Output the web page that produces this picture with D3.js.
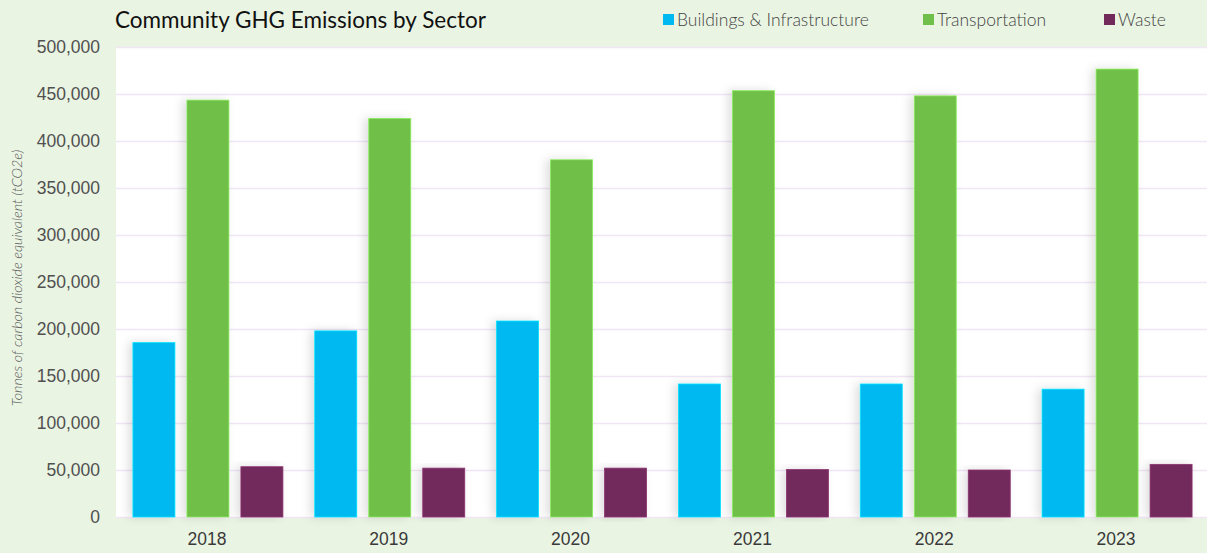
<!DOCTYPE html>
<html>
<head>
<meta charset="utf-8">
<script src="https://cdn.jsdelivr.net/npm/d3@7"></script>
<style>
    body { margin: 0; background: #eaf4e3; }
    svg  { display: block; font-family: Lato, "Open Sans", sans-serif; }
</style>
</head>
<body>
<svg id="ghg_chart" width="1207" height="553"></svg>
<script>
// values (tCO2e)
const years          = ["2018", "2019", "2020", "2021", "2022", "2023"];
const sectors        = ["Buildings & Infrastructure", "Transportation", "Waste"];
const buildings      = [185500, 198000, 208500, 141500, 141500, 136000];
const transportation = [443500, 424000, 380000, 453500, 448000, 476500];
const waste          = [53500, 52000, 52000, 50500, 50000, 56000];
const yTicks         = [0, 50000, 100000, 150000, 200000, 250000, 300000, 350000, 400000, 450000, 500000];

const colors = ["#00b9f1", "#70bf4a", "#722a5b"];
const series = [buildings, transportation, waste];

const svg = d3.select("#ghg_chart");
const width = +svg.attr("width"), height = +svg.attr("height");

const margin = { top: 47, right: 0, bottom: 36, left: 116 };
const innerWidth  = width  - margin.left - margin.right;
const innerHeight = height - margin.top  - margin.bottom;

// soft shadow behind bars
const defs = svg.append("defs");
const shadow = defs.append("filter").attr("id", "bar_shadow")
    .attr("x", "-50%").attr("y", "-10%").attr("width", "200%").attr("height", "120%");
shadow.append("feDropShadow")
    .attr("dx", -4).attr("dy", 0)
    .attr("stdDeviation", 5)
    .attr("flood-color", "#000")
    .attr("flood-opacity", 0.13);

const chart = svg.append("g").attr("transform", `translate(${margin.left},${margin.top})`);

chart.append("rect")
    .attr("width", innerWidth).attr("height", innerHeight)
    .attr("fill", "#ffffff");

const x = d3.scaleBand().domain(years).range([0, innerWidth]);
const y = d3.scaleLinear().domain([0, 500000]).range([innerHeight, 0]);

// gridlines + y labels
const yAxis = d3.axisLeft(y).tickValues(yTicks).tickSize(-innerWidth).tickPadding(16)
    .tickFormat(d3.format(","));
const gy = chart.append("g").call(yAxis);
gy.select(".domain").remove();
gy.selectAll(".tick line").attr("stroke", "#f1e6f6").attr("stroke-width", 1.5);
gy.selectAll(".tick text").attr("fill", "#505050").attr("font-size", 17.5).attr("font-weight", 300);

// bars
const barWidth = 42, barGap = 12;
const groupWidth = barWidth * 3 + barGap * 2;

series.forEach((values, si) =>
{
    chart.selectAll(".bar_s" + si).data(values)
        .enter().append("rect")
        .attr("class", "bar_s" + si)
        .attr("x", (d, i) => x(years[i]) + (x.bandwidth() - groupWidth) / 2 + si * (barWidth + barGap) + 1)
        .attr("y", d => y(d))
        .attr("width", barWidth)
        .attr("height", d => innerHeight - y(d))
        .attr("fill", colors[si])
        .attr("stroke", d3.color(colors[si]).brighter(0.6))
        .attr("stroke-width", 0.8)
        .attr("filter", "url(#bar_shadow)");
});

// x labels
const xAxis = d3.axisBottom(x).tickSize(0).tickPadding(16);
const gx = chart.append("g").attr("transform", `translate(0,${innerHeight})`).call(xAxis);
gx.select(".domain").remove();
gx.selectAll(".tick text").attr("fill", "#3a3a3a").attr("font-size", 17.5).attr("font-weight", 300);

// y axis title
svg.append("text")
    .attr("transform", `translate(22,${margin.top + innerHeight / 2 - 4}) rotate(-90)`)
    .attr("text-anchor", "middle")
    .attr("font-size", 14.3)
    .attr("font-style", "italic")
    .attr("font-weight", 300)
    .attr("fill", "#555")
    .text("Tonnes of carbon dioxide equivalent (tCO2e)");

// title
svg.append("text")
    .attr("x", 115).attr("y", 28)
    .attr("font-size", 22.5)
    .attr("fill", "#111")
    .text("Community GHG Emissions by Sector");

// legend
const legendX = [663, 923, 1104];
const legend = svg.selectAll(".legend_item").data(sectors)
    .enter().append("g")
    .attr("class", "legend_item")
    .attr("transform", (d, i) => `translate(${legendX[i]},20)`);
legend.append("rect")
    .attr("x", 0).attr("y", -6).attr("width", 11).attr("height", 11)
    .attr("fill", (d, i) => colors[i]);
legend.append("text")
    .attr("x", 14).attr("y", 6)
    .attr("font-size", 17.5)
    .attr("font-weight", 300)
    .attr("fill", "#444")
    .text(d => d);
</script>
</body>
</html>
